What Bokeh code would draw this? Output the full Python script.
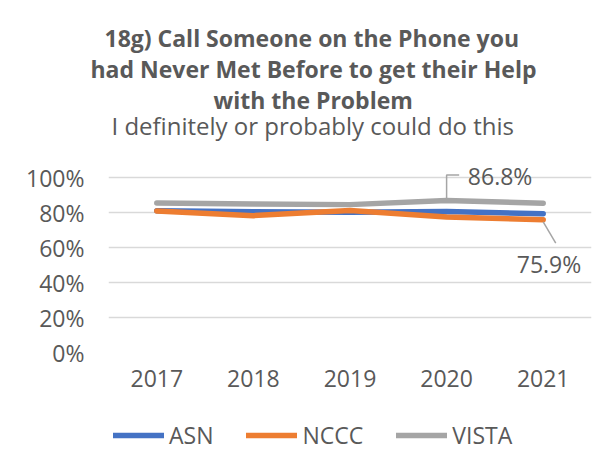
from bokeh.plotting import figure
from bokeh.layouts import column
from bokeh.models import Range1d, FixedTicker, Label, Legend, LegendItem, NumeralTickFormatter, Title
from bokeh.embed import file_html
from bokeh.resources import INLINE

years = ["2017", "2018", "2019", "2020", "2021"]
asn = [0.810, 0.804, 0.801, 0.806, 0.793]
nccc = [0.809, 0.782, 0.812, 0.774, 0.759]
vista = [0.854, 0.849, 0.845, 0.868, 0.853]
y_ticks = [0, 0.2, 0.4, 0.6, 0.8, 1.0]
title_lines = ["18g) Call Someone on the Phone you",
               "had Never Met Before to get their Help",
               "with the Problem"]
subtitle = "I definitely or probably could do this"
series = [("ASN", asn, "#4472c4"), ("NCCC", nccc, "#ed7d31"), ("VISTA", vista, "#a5a5a5")]

FONT = "Open Sans"
GREY = "#595959"

xs = list(range(len(years)))

p = figure(frame_width=483, frame_height=189, output_backend="svg", toolbar_location=None,
           x_range=Range1d(-0.5, len(years) - 0.5), y_range=Range1d(0, 1.08),
           min_border_left=108, min_border_right=4, min_border_top=163, min_border_bottom=60)
p.outline_line_color = None
p.background_fill_color = "white"
p.border_fill_color = "white"

p.xgrid.grid_line_color = None
p.ygrid.grid_line_color = "#d9d9d9"
p.ygrid.grid_line_width = 1.3
p.yaxis.ticker = FixedTicker(ticks=y_ticks)
p.yaxis.formatter = NumeralTickFormatter(format="0%")
p.xaxis.ticker = FixedTicker(ticks=xs)
p.xaxis.major_label_overrides = {i: y for i, y in enumerate(years)}
for ax in (p.xaxis, p.yaxis):
    ax.axis_line_color = None
    ax.major_tick_line_color = None
    ax.minor_tick_line_color = None
    ax.major_label_text_font = FONT
    ax.major_label_text_font_size = "23px"
    ax.major_label_text_color = GREY
p.yaxis.major_label_standoff = 18
p.xaxis.major_label_standoff = 11

# draw order: VISTA (back), ASN, NCCC (front)
for name, vals, col in [series[2], series[0], series[1]]:
    p.line(xs, vals, line_color=col, line_width=5.5, line_cap="round", line_join="round")

# leader lines for data labels
p.line([3, 3, 3.13], [vista[3] + 0.012, 1.015, 1.015], line_color="#a5a5a5", line_width=1.5)
p.line([4.0, 4.13], [nccc[4] - 0.012, 0.625], line_color="#a5a5a5", line_width=1.5)

p.add_layout(Label(x=3.22, y=1.01, text=f"{vista[3]*100:.1f}%", text_font=FONT, text_font_size="23px",
                   text_color=GREY, text_baseline="middle", text_align="left"))
p.add_layout(Label(x=4.06, y=0.505, text=f"{nccc[4]*100:.1f}%", text_font=FONT, text_font_size="23px",
                   text_color=GREY, text_baseline="middle", text_align="center"))

# titles (stacked upward from the plot area)
p.add_layout(Title(text=" ", text_font=FONT, text_font_size="10px", standoff=12.5), "above")
p.add_layout(Title(text=subtitle, text_font=FONT, text_font_size="24px", text_font_style="normal",
                   text_color=GREY, align="left", offset=3, standoff=-15), "above")
for t, off in zip(reversed(title_lines), [105, -18, -4]):
    p.add_layout(Title(text=t, text_font=FONT, text_font_size="23px", text_font_style="bold",
                       text_color=GREY, align="left", offset=off, standoff=-3), "above")

# legend strip (separate small figure below the chart)
q = figure(frame_width=595, frame_height=50, output_backend="svg", toolbar_location=None,
           x_range=Range1d(0, 595), y_range=Range1d(10, 60),
           min_border_left=0, min_border_right=0, min_border_top=0, min_border_bottom=0)
q.axis.visible = False
q.grid.grid_line_color = None
q.outline_line_color = None
q.background_fill_color = "white"
q.border_fill_color = "white"
items = []
for name, vals, col in series:
    r = q.line(xs, vals, line_color=col, line_width=5.5, line_cap="round")
    items.append(LegendItem(label=name, renderers=[r]))

legend = Legend(items=items, location=(113, 11), orientation="horizontal")
legend.border_line_color = None
legend.background_fill_alpha = 0
legend.padding = 0
legend.margin = 0
legend.spacing = 33
legend.glyph_width = 51
legend.glyph_height = 20
legend.label_standoff = 5
legend.label_text_font = FONT
legend.label_text_font_size = "23px"
legend.label_text_color = GREY
q.add_layout(legend, "center")

layout = column(p, q, spacing=0)
open("out.html", "w").write(file_html(layout, INLINE))
